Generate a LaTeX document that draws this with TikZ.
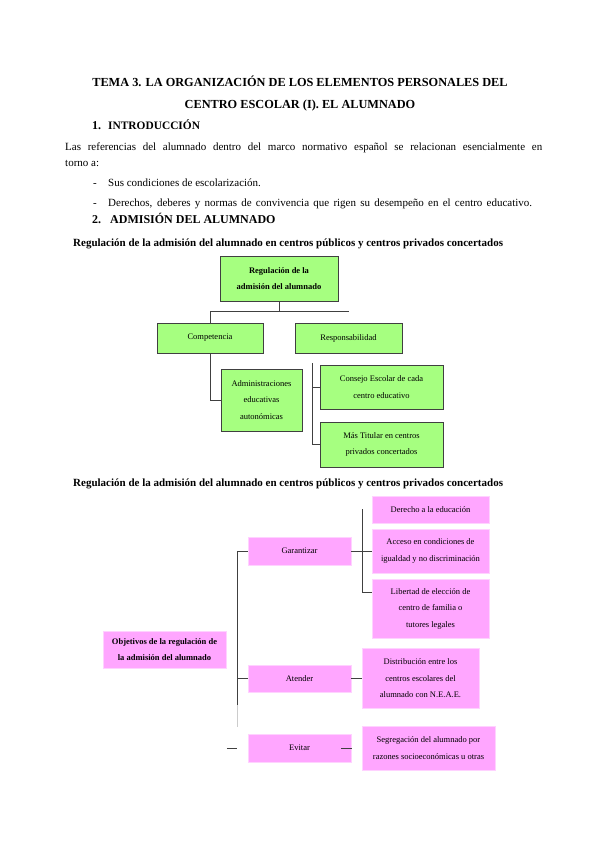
\documentclass[tikz,border=0pt]{standalone}
\usepackage{fontspec}
\setmainfont{Liberation Serif}
\usetikzlibrary{positioning,calc}
\definecolor{cGreen}{HTML}{A6FF80}
\definecolor{cPink}{HTML}{FFA6FF}
\definecolor{cLine}{HTML}{404040}

\begin{document}
\begin{tikzpicture}[x=1pt,y=-1pt,
    txt/.style={inner sep=0pt,anchor=base west,font=\fontsize{11}{16}\selectfont},
    head/.style={inner sep=0pt,anchor=base west,font=\fontsize{12}{14}\selectfont\bfseries},
    subhead/.style={inner sep=0pt,anchor=base west,font=\fontsize{11}{13}\selectfont\bfseries},
    titleline/.style={inner sep=0pt,anchor=base,font=\fontsize{12.3}{14}\selectfont\bfseries},
    greenbox/.style={draw=black!75,fill=cGreen,line width=0.6pt,align=center,inner sep=1pt,
      font=\fontsize{8.5}{16.5}\selectfont},
    pinkbox/.style={draw=cPink!50!white,fill=cPink,line width=0.5pt,align=center,inner sep=1pt,
      font=\fontsize{8.5}{16.5}\selectfont},
    link/.style={draw=cLine,line width=0.7pt}]
  \useasboundingbox[fill=white] (0,0) rectangle (600,848);

  % title and introduction
  \node[titleline] (title1) at (300,87) {TEMA 3. LA ORGANIZACIÓN DE LOS ELEMENTOS PERSONALES DEL};
  \node[titleline] (title2) at (300,108.5) {CENTRO ESCOLAR (I). EL ALUMNADO};
  \node[head] (n1) at (92,129) {1.};
  \node[head,font=\fontsize{11.4}{14}\selectfont\bfseries] (h1) at (108,129) {INTRODUCCIÓN};
  \node[txt] (par1) at (65,150.5)
    {\makebox[477pt][s]{Las referencias del alumnado dentro del marco normativo español se relacionan esencialmente en}};
  \node[txt] (par2) at (65,166.5) {torno a:};
  \node[txt] (d1) at (93,186) {-};
  \node[txt] (b1) at (108,186) {Sus condiciones de escolarización.};
  \node[txt] (d2) at (93,206) {-};
  \node[txt] (b2) at (108,206)
    {\makebox[424pt][s]{Derechos, deberes y normas de convivencia que rigen su desempeño en el centro educativo.}};
  \node[head] (n2) at (92,223) {2.};
  \node[head] (h2) at (110,223) {ADMISIÓN DEL ALUMNADO};

  % first chart
  \node[subhead] (sub1) at (73,246.5)
    {Regulación de la admisión del alumnado en centros públicos y centros privados concertados};
  \node[greenbox,minimum width=118pt,minimum height=45pt,font=\fontsize{8.5}{16.5}\selectfont\bfseries] (reg) at (279,278.5)
    {Regulación de la\\admisión del alumnado};
  \node[greenbox,minimum width=106pt,minimum height=30pt] (comp) at (210,338) {Competencia};
  \node[greenbox,minimum width=107pt,minimum height=30pt] (resp) at (348.5,338) {Responsabilidad};
  \node[greenbox,minimum width=81pt,minimum height=62pt] (admin) at (261.5,400)
    {Administraciones\\educativas\\autonómicas};
  \node[greenbox,minimum width=123pt,minimum height=44pt] (consejo) at (381.5,387)
    {Consejo Escolar de cada\\centro educativo};
  \node[greenbox,minimum width=123pt,minimum height=45pt] (titular) at (381.5,444.5)
    {Más Titular en centros\\privados concertados};

  \coordinate (tbus) at ($(reg.south)+(0,10)$);
  \draw[link] (reg.south) -- (tbus);
  \draw[link] (tbus) -| (comp.north);
  \draw[link] (tbus) -- (tbus -| resp.north);
  \draw[link] (comp.south) |- (admin.west);
  \coordinate (rbus) at (312,363);
  \draw[link] (rbus) |- (titular.west);
  \draw[link] (rbus |- consejo.west) -- (consejo.west);

  % second chart
  \node[subhead] (sub2) at (73,486.5)
    {Regulación de la admisión del alumnado en centros públicos y centros privados concertados};
  \node[pinkbox,minimum width=123pt,minimum height=37pt,font=\fontsize{8.5}{16.5}\selectfont\bfseries] (obj) at (164.5,649.5)
    {Objetivos de la regulación de\\la admisión del alumnado};
  \node[pinkbox,minimum width=103pt,minimum height=28pt] (gar) at (299.5,551) {Garantizar};
  \node[pinkbox,minimum width=103pt,minimum height=27pt] (ate) at (299.5,678.5) {Atender};
  \node[pinkbox,minimum width=103pt,minimum height=28pt] (evi) at (299.5,748) {Evitar};
  \node[pinkbox,minimum width=117pt,minimum height=27pt] (der) at (430.5,509.5) {Derecho a la educación};
  \node[pinkbox,minimum width=117pt,minimum height=44pt] (acc) at (430.5,551)
    {Acceso en condiciones de\\igualdad y no discriminación};
  \node[pinkbox,minimum width=117pt,minimum height=59pt] (lib) at (430.5,608.5)
    {Libertad de elección de\\centro de familia o\\tutores legales};
  \node[pinkbox,minimum width=117pt,minimum height=60pt] (dis) at (420.5,678.5)
    {Distribución entre los\\centros escolares del\\alumnado con N.E.A.E.};
  \node[pinkbox,minimum width=133pt,minimum height=44pt] (seg) at (428.5,748)
    {Segregación del alumnado por\\razones socioeconómicas u otras};

  \coordinate (spine) at (237,705);
  \draw[link] (gar.west) -| (spine);
  \draw[link,draw=black!20] (spine) -- ++(0,22);
  \draw[link] (ate.west) -- (ate.west -| spine);
  \coordinate (evL) at ($(evi.west)+(-21,0)$);
  \draw[link] (evL) -- ++(10,0);
  \coordinate (evR) at ($(evi.east)+(-10,0)$);
  \draw[link] (evR) -- ++(11,0);
  \draw[link] (gar.east) -- (acc.west);
  \coordinate (gbus) at (362,509);
  \coordinate (libT) at ($(lib.north west)+(0,14)$);
  \draw[link] (gbus) |- (libT);
  \draw[link] (ate.east) -- (ate.east -| dis.west);
\end{tikzpicture}
\end{document}
